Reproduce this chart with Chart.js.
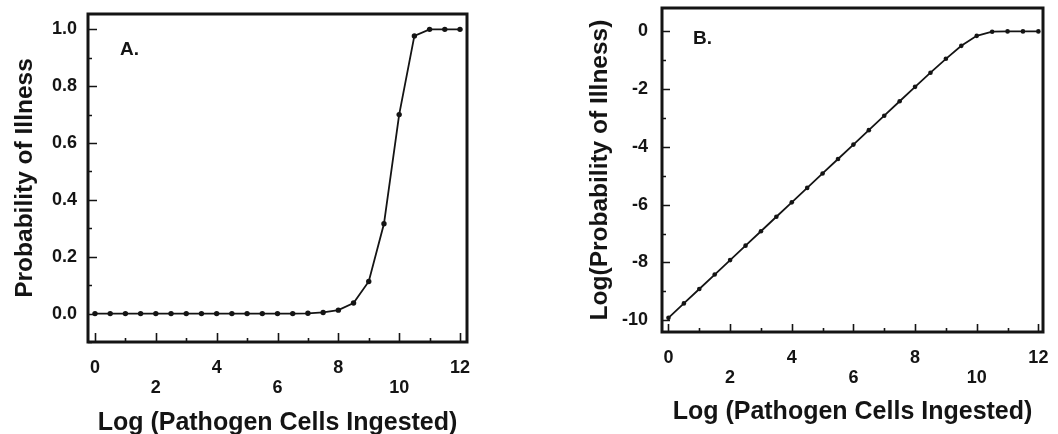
<!DOCTYPE html>
<html>
<head>
<meta charset="utf-8">
<script src="https://cdn.jsdelivr.net/npm/chart.js@4/dist/chart.umd.min.js"></script>
<style>
  html, body { margin: 0; padding: 0; background: #ffffff; }
  #wrap { position: relative; width: 1058px; height: 434px; overflow: hidden; background: #fff; }
  .panel { position: absolute; top: 0; width: 529px; height: 434px; }
  #pA { left: 0; }
  #pB { left: 529px; }
</style>
</head>
<body>
<div id="wrap">
  <div class="panel" id="pA"><canvas id="cA" width="529" height="434"></canvas></div>
  <div class="panel" id="pB"><canvas id="cB" width="529" height="434"></canvas></div>
</div>
<script>
// ---- data ----
const logDose = [0, 0.5, 1, 1.5, 2, 2.5, 3, 3.5, 4, 4.5, 5, 5.5, 6, 6.5, 7, 7.5, 8, 8.5, 9, 9.5, 10, 10.5, 11, 11.5, 12];
const probIllness = [0, 0, 0, 0, 0, 0, 0, 0, 0, 0, 0, 0, 0, 0, 0.001, 0.004, 0.012, 0.037, 0.113, 0.316, 0.70, 0.977, 1.0, 1.0, 1.0];
const logProbIllness = [-9.92, -9.42, -8.92, -8.42, -7.92, -7.42, -6.92, -6.42, -5.92, -5.42, -4.92, -4.42, -3.92, -3.42, -2.92, -2.42, -1.92, -1.43, -0.95, -0.50, -0.155, -0.01, 0, 0, 0];
const xTickLabels = ['0', '2', '4', '6', '8', '10', '12'];
const yTickLabelsA = ['0.0', '0.2', '0.4', '0.6', '0.8', '1.0'];
const yTickLabelsB = ['-10', '-8', '-6', '-4', '-2', '0'];
const panelLabels = ['A.', 'B.'];
const xTitle = 'Log (Pathogen Cells Ingested)';
const yTitleA = 'Probability of Illness';
const yTitleB = 'Log(Probability of Illness)';

const INK = '#141414';
const FAMILY = "'Liberation Sans', Arial, Helvetica, sans-serif";
Chart.defaults.font.family = FAMILY;
Chart.defaults.color = INK;

function isMult(v, step) { return Math.abs(v / step - Math.round(v / step)) < 1e-6; }

const framePlugin = {
  id: 'frame',
  afterDraw(chart, args, o) {
    const { ctx, chartArea: a, scales } = chart;
    ctx.save();
    ctx.strokeStyle = INK;
    ctx.lineWidth = 1.6;
    ctx.beginPath();
    for (const t of scales.x.ticks) {
      const v = t.value;
      if (!isMult(v, o.xMinor)) continue;
      const len = isMult(v, o.xMajor) ? o.majorLen : o.minorLen;
      const px = Math.round(scales.x.getPixelForValue(v)) + 0.5;
      ctx.moveTo(px, a.bottom);
      ctx.lineTo(px, a.bottom - len);
    }
    for (const t of scales.y.ticks) {
      const v = t.value;
      if (!isMult(v, o.yMinor)) continue;
      const len = isMult(v, o.yMajor) ? o.majorLen : o.minorLen;
      const py = Math.round(scales.y.getPixelForValue(v)) + 0.5;
      ctx.moveTo(a.left, py);
      ctx.lineTo(a.left + len, py);
    }
    ctx.stroke();
    ctx.lineWidth = 3;
    ctx.strokeRect(a.left, a.top, a.right - a.left, a.bottom - a.top);
    ctx.font = 'bold 19px ' + FAMILY;
    ctx.fillStyle = INK;
    ctx.textBaseline = 'middle';
    ctx.textAlign = 'left';
    ctx.fillText(o.label, a.left + o.labelDx, a.top + o.labelDy);
    ctx.restore();
  }
};

function xLabel(v) {
  if (!isMult(v, 2) || v < -1e-9 || v > 12.0001) return '';
  const s = String(Math.round(v));
  if (!xTickLabels.includes(s)) return '';
  return isMult(v, 4) ? [s, ''] : ['', s];
}

function makeChart(id, cfg) {
  return new Chart(document.getElementById(id), {
    type: 'scatter',
    data: {
      datasets: [{
        data: logDose.map((x, i) => ({ x: x, y: cfg.values[i] })),
        showLine: true,
        borderColor: INK,
        backgroundColor: INK,
        borderWidth: 1.8,
        pointRadius: cfg.pointRadius,
        pointBorderWidth: 0,
        pointHoverRadius: cfg.pointRadius,
        tension: 0
      }]
    },
    options: {
      responsive: false,
      animation: false,
      events: [],
      layout: { padding: cfg.padding },
      plugins: {
        legend: { display: false },
        tooltip: { enabled: false },
        frame: cfg.frame
      },
      scales: {
        x: {
          type: 'linear',
          min: cfg.xMin, max: cfg.xMax,
          grid: { display: false, drawTicks: false },
          border: { display: false },
          ticks: {
            stepSize: 1, autoSkip: false, maxRotation: 0, padding: 16, includeBounds: false,
            font: { size: 18, weight: 'bold', lineHeight: '20px' },
            callback: (v) => xLabel(v)
          },
          title: {
            display: true, text: xTitle,
            font: { size: 25, weight: 'bold', lineHeight: '22px' },
            padding: { top: 0, bottom: cfg.xTitlePad }
          },
          afterFit: (s) => { s.height = cfg.xHeight; s.paddingLeft = 0; s.paddingRight = 0; }
        },
        y: {
          type: 'linear',
          min: cfg.yMin, max: cfg.yMax,
          grid: { display: false, drawTicks: false },
          border: { display: false },
          ticks: {
            stepSize: cfg.yStep, autoSkip: false, padding: cfg.yTickPad, includeBounds: false,
            font: { size: 18, weight: 'bold' },
            callback: (v) => cfg.yLabel(v)
          },
          title: {
            display: true, text: cfg.yTitle,
            font: { size: 24.5, weight: 'bold', lineHeight: '22px' },
            padding: { top: cfg.yTitlePad, bottom: 0 }
          },
          afterFit: (s) => { s.width = cfg.yWidth; s.paddingTop = 0; s.paddingBottom = 0; }
        }
      }
    },
    plugins: [framePlugin]
  });
}

makeChart('cA', {
  values: probIllness,
  pointRadius: 2.7,
  padding: { left: 0, top: 14, right: 62, bottom: 0 },
  xMin: -0.23, xMax: 12.23, xHeight: 92, xTitlePad: 0,
  yMin: -0.1, yMax: 1.054, yStep: 0.1, yWidth: 88, yTickPad: 11, yTitlePad: 14,
  yTitle: yTitleA,
  yLabel: (v) => {
    if (!isMult(v, 0.2) || v < -1e-9 || v > 1.0001) return '';
    const s = (Math.abs(v) < 1e-9 ? 0 : v).toFixed(1);
    return yTickLabelsA.includes(s) ? s : '';
  },
  frame: { xMajor: 2, xMinor: 1, yMajor: 0.2, yMinor: 0.1, majorLen: 9, minorLen: 4,
           label: panelLabels[0], labelDx: 32, labelDy: 36 }
});

makeChart('cB', {
  values: logProbIllness,
  pointRadius: 2.3,
  padding: { left: 0, top: 8, right: 15, bottom: 0 },
  xMin: -0.21, xMax: 12.15, xHeight: 102, xTitlePad: 11,
  yMin: -10.41, yMax: 0.81, yStep: 1, yWidth: 133, yTickPad: 14, yTitlePad: 60,
  yTitle: yTitleB,
  yLabel: (v) => {
    if (!isMult(v, 2)) return '';
    const s = String(Math.round(v));
    return yTickLabelsB.includes(s) ? s : '';
  },
  frame: { xMajor: 2, xMinor: 1, yMajor: 2, yMinor: 1, majorLen: 8, minorLen: 4,
           label: panelLabels[1], labelDx: 31, labelDy: 31 }
});
</script>
</body>
</html>
